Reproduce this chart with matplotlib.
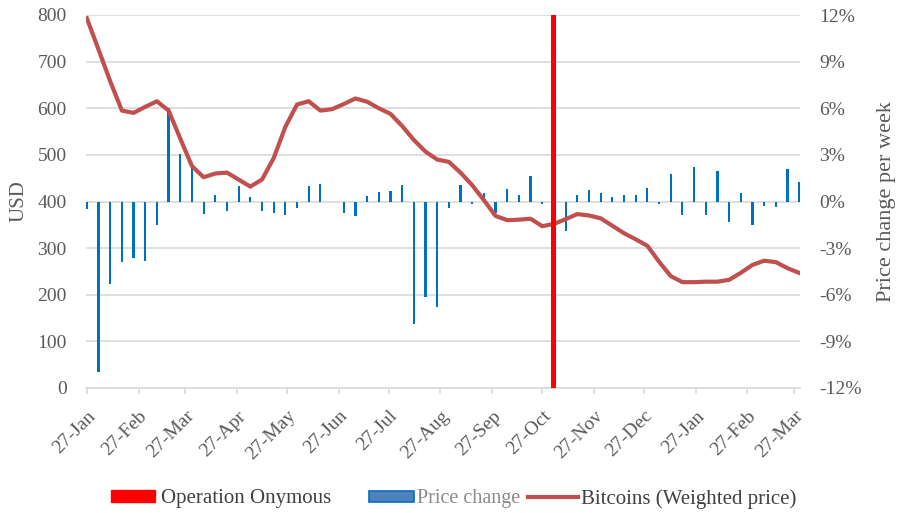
import matplotlib
matplotlib.use('Agg')
import matplotlib.pyplot as plt
import pandas as pd
from matplotlib.patches import Patch
from matplotlib.lines import Line2D

# ---------------- data ----------------
first_week = '2014-01-27'
n_weeks = 62
price_usd = [793, 726, 658, 595, 590, 603, 615, 595, 535, 476,
             452, 460, 462, 447, 432, 447, 493, 560, 608, 615,
             595, 598, 609, 621, 614, 600, 588, 562, 532, 507,
             490, 485, 462, 435, 403, 369, 360, 361, 363, 347,
             352, 362, 373, 370, 364, 348, 332, 319, 305, 271,
             240, 227, 227, 228, 228, 232, 247, 264, 273, 270,
             257, 247]
change_pct = [-0.5, -11.0, -5.28, -3.88, -3.62, -3.84, -1.51, 6.03, 3.06, 2.2,
              -0.78, 0.41, -0.63, 0.97, 0.26, -0.6, -0.75, -0.88, -0.45, 1.01,
              1.1, 0.0, -0.71, -0.93, 0.34, 0.6, 0.65, 1.06, -7.9, -6.16,
              -6.79, -0.43, 1.08, -0.13, 0.52, -0.75, 0.8, 0.41, 1.62, -0.13,
              -0.6, -1.9, 0.41, 0.75, 0.56, 0.26, 0.41, 0.41, 0.9, -0.19,
              1.75, -0.86, 2.24, -0.86, 1.94, -1.34, 0.56, -1.49, -0.26, -0.34,
              2.09, 1.23]
onymous_date = '2014-11-03'
onymous_value = 800
left_ticks = [0, 100, 200, 300, 400, 500, 600, 700, 800]
right_ticks = [-12, -9, -6, -3, 0, 3, 6, 9, 12]
right_labels = ['-12%', '-9%', '-6%', '-3%', '0%', '3%', '6%', '9%', '12%']
x_tick_dates = ['2014-01-27', '2014-02-27', '2014-03-27', '2014-04-27', '2014-05-27',
                '2014-06-27', '2014-07-27', '2014-08-27', '2014-09-27', '2014-10-27',
                '2014-11-27', '2014-12-27', '2015-01-27', '2015-02-27', '2015-03-27']
x_tick_labels = ['27-Jan', '27-Feb', '27-Mar', '27-Apr', '27-May', '27-Jun', '27-Jul',
                 '27-Aug', '27-Sep', '27-Oct', '27-Nov', '27-Dec', '27-Jan', '27-Feb', '27-Mar']

dates = pd.date_range(first_week, periods=n_weeks, freq='7D')

# ---------------- style ----------------
plt.rcParams['font.family'] = ['Liberation Serif', 'DejaVu Serif']
TXT = '#595959'
GRID = '#d9d9d9'
FS = 14

fig = plt.figure(figsize=(9.05, 5.13), dpi=100)
ax = fig.add_axes([86/905, 125/513, 714/905, 373/513])
ax2 = ax.twinx()
ax.set_zorder(ax2.get_zorder() + 1)
ax.patch.set_visible(False)

# bars (secondary axis)
ax2.bar(dates, change_pct, width=1.3, color='#0070C0', zorder=3)
ax2.set_ylim(-12, 12)
ax2.set_yticks(right_ticks)
ax2.set_yticklabels(right_labels)
ax2.yaxis.grid(True, color=GRID, lw=1.2, zorder=0)
ax2.set_axisbelow(True)

# line + Onymous marker (primary axis)
ax.plot(dates, price_usd, color='#C0504D', lw=3.0, solid_joinstyle='round', zorder=3)
ax.bar(pd.Timestamp(onymous_date), onymous_value, width=3.0, color='#FF0000', zorder=4)
ax.set_ylim(0, 800)
ax.set_yticks(left_ticks)

xmin = dates[0] - pd.Timedelta(days=0.5)
xmax = dates[-1] + pd.Timedelta(days=0.5)
ax.set_xlim(xmin, xmax)
ax.set_xticks(pd.to_datetime(x_tick_dates))
ax.set_xticklabels(x_tick_labels, rotation=45, ha='right', rotation_mode='anchor')

for a in (ax, ax2):
    for s in ('top', 'left', 'right'):
        a.spines[s].set_visible(False)
ax.spines['bottom'].set_color(GRID)
ax.spines['bottom'].set_linewidth(1.2)
ax2.spines['bottom'].set_visible(False)

ax.tick_params(axis='y', length=0, pad=14, labelsize=FS, labelcolor=TXT)
ax2.tick_params(axis='y', length=0, pad=14, labelsize=FS, labelcolor=TXT)
ax.tick_params(axis='x', length=4, width=1.2, color=GRID, pad=10, labelsize=FS, labelcolor=TXT)

ax.set_ylabel('USD', fontsize=15, color=TXT, labelpad=6)
ax2.set_ylabel('Price change per week', fontsize=16, color=TXT, labelpad=11)

# ---------------- legend ----------------
LFS = 15
h1 = Patch(facecolor='#FF0000', edgecolor='#FF0000')
h2 = Patch(facecolor='#4F81BD', edgecolor='#0070C0', linewidth=1.2)
h3 = Line2D([0], [0], color='#C0504D', lw=3.0)
common = dict(loc='center left', frameon=False,
              handleheight=0.5, borderpad=0, borderaxespad=0)
ly = 14/513
l1 = fig.legend([h1], ['Operation Onymous'], bbox_to_anchor=(111/905, ly),
                handlelength=2.1, handletextpad=0.3, fontsize=LFS, **common)
l2 = fig.legend([h2], ['Price change'], bbox_to_anchor=(369/905, ly),
                handlelength=2.25, handletextpad=0.15, fontsize=14.5, **common)
for t in l2.get_texts():
    t.set_color('#8a8a8a')
l3 = fig.legend([h3], ['Bitcoins (Weighted price)'], bbox_to_anchor=(528/905, ly),
                handlelength=2.4, handletextpad=0.15, fontsize=LFS, **common)
for lg in (l1, l3):
    for t in lg.get_texts():
        t.set_color('#404040')

fig.savefig('out.png', dpi=100)
